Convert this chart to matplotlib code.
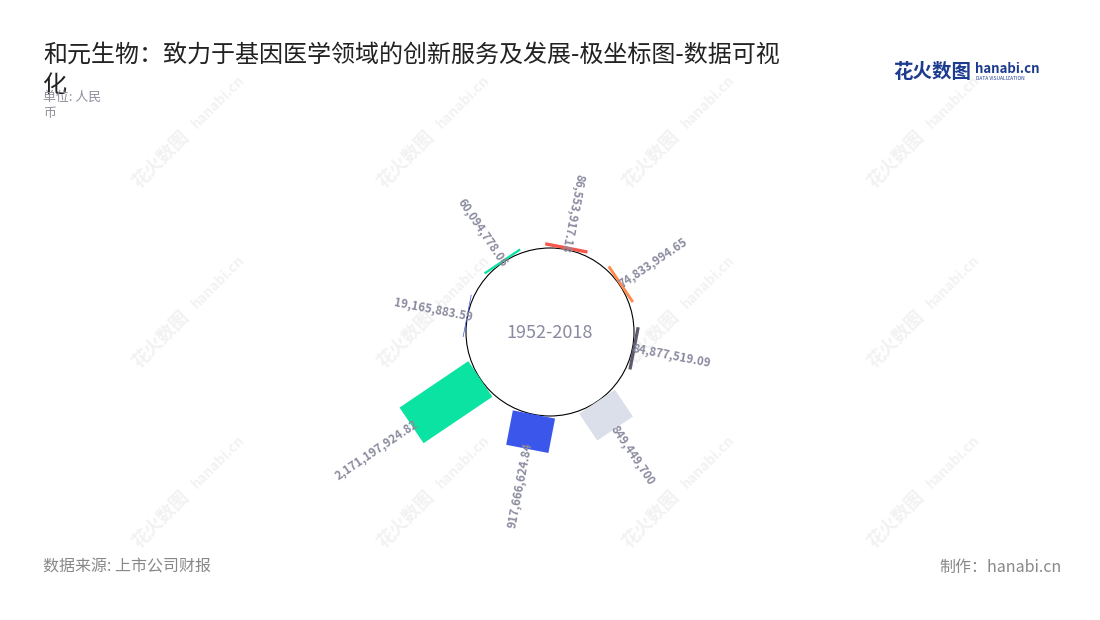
#!/usr/bin/env python3
"""和元生物 polar-style bar chart (rectangles standing on a circle)."""

import matplotlib

matplotlib.use("Agg")
import matplotlib.pyplot as plt
import numpy as np
from matplotlib.patches import Circle, Polygon

plt.rcParams["font.family"] = ["Noto Sans CJK SC", "DejaVu Sans"]

# data, clockwise from the top
values = [86553917.18, 74833994.65, 84877519.09, 849449700,
          917666624.84, 2171197924.82, 19165883.59, 60094778.06]
colors = ["#f5574b", "#ff8a4c", "#5b5b6e", "#dadfe9",
          "#3b57eb", "#0be3a3", "#3b57eb", "#0be3a3"]
center_label = "1952-2018"

title = "和元生物：致力于基因医学领域的创新服务及发展-极坐标图-数据可视\n化"
subtitle = "单位: 人民\n币"
source = "数据来源: 上市公司财报"
credit = "制作：hanabi.cn"


def fmt(v):
    s = f"{v:,.2f}"
    return s[:-3] if s.endswith(".00") else s


W, H = 1100, 620
fig = plt.figure(figsize=(W / 100, H / 100), dpi=100)
fig.patch.set_facecolor("white")

# background watermarks
bg = fig.add_axes([0, 0, 1, 1])
bg.set_xlim(0, W)
bg.set_ylim(H, 0)
bg.axis("off")
for gx in range(4):
    for gy in range(3):
        x0, y0 = 192 + 245 * gx, 128 + 180 * gy
        bg.text(x0 - 6, y0 + 6, "花火数图", rotation=45, fontsize=13, fontweight="bold",
                color="#f2f2f2", ha="right", va="center", rotation_mode="anchor", zorder=0)
        bg.text(x0 + 2, y0 - 2, "hanabi.cn", rotation=45, fontsize=10, fontweight="bold",
                color="#f2f2f2", ha="left", va="center", rotation_mode="anchor", zorder=0)

# chart axes in pixel units, centred on the circle
cx, cy, half = 550, 332, 300
ax = fig.add_axes([(cx - half) / W, (H - cy - half) / H, 2 * half / W, 2 * half / H])
ax.set_xlim(-half, half)
ax.set_ylim(-half, half)
ax.set_aspect("equal")
ax.axis("off")

R = 84          # inner circle radius (px)
bar_w = 43      # bar width (px)
max_len = 83    # length of the largest bar (px)
scale = max_len / max(values)
step = 360 / len(values)
offset = 11

ax.add_patch(Circle((0, 0), R, facecolor="white", edgecolor="black", lw=0.8, zorder=2))

for i, (v, c) in enumerate(zip(values, colors)):
    deg = offset + step * i
    theta = np.deg2rad(deg)
    u = np.array([np.sin(theta), np.cos(theta)])
    t = np.array([np.cos(theta), -np.sin(theta)])
    L = v * scale
    pts = [u * R - t * bar_w / 2, u * R + t * bar_w / 2,
           u * (R + L) + t * bar_w / 2, u * (R + L) - t * bar_w / 2]
    ax.add_patch(Polygon(pts, closed=True, facecolor=c, edgecolor="none", zorder=3))

    rot = 90 - deg
    inward = deg < 20 or deg > 180
    if inward:
        pos = u * (R + L - 6)
        ha = "right"
        rot += 180
    else:
        pos = u * (R + L - 3)
        ha = "left"
    rot = (rot + 180) % 360 - 180
    ax.text(pos[0], pos[1], fmt(v), rotation=rot, rotation_mode="anchor", ha=ha, va="center",
            fontsize=8.3, fontweight="bold", color="#8b8ba0", zorder=4)

ax.text(0, -1, center_label, ha="center", va="center", fontsize=13,
        color="#8a8aa0", zorder=4)

# titles and footer
fig.text(43 / W, 1 - 70 / H, title, ha="left", va="center", fontsize=17.3,
         color="#222222", linespacing=1.25)
fig.text(43 / W, 1 - 105 / H, subtitle, ha="left", va="center", fontsize=9.3,
         color="#8e8e9c", linespacing=1.3)
fig.text(43 / W, 1 - 567 / H, source, ha="left", va="center", fontsize=11.5, color="#888888")
fig.text(1062 / W, 1 - 567 / H, credit, ha="right", va="center", fontsize=11.5, color="#888888")

# logo
fig.text(893 / W, 1 - 72 / H, "花火数图", ha="left", va="center", fontsize=14,
         fontweight="bold", color="#1d3b8f")
fig.text(975 / W, 1 - 69 / H, "hanabi.cn", ha="left", va="center", fontsize=9.5,
         fontweight="bold", color="#1d3b8f")
fig.text(976 / W, 1 - 79 / H, "DATA VISUALIZATION", ha="left", va="center", fontsize=3.5,
         color="#1d3b8f")

fig.savefig("out.png", dpi=100, facecolor="white")
